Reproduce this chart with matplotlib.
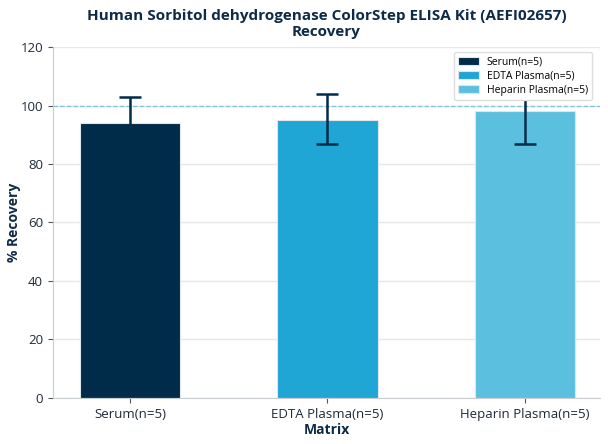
import numpy as np
import matplotlib.pyplot as plt

matrices = ['Serum(n=5)', 'EDTA Plasma(n=5)', 'Heparin Plasma(n=5)']
recovery = [94, 95, 98]
err_low = [9, 8, 11]
err_high = [9, 9, 11]
colors = ['#002b49', '#1fa6d4', '#5bc0e0']

plt.rcParams['font.family'] = ['Open Sans', 'DejaVu Sans']

fig, ax = plt.subplots(figsize=(6.08, 4.44), dpi=100)
fig.subplots_adjust(left=0.087, right=0.987, top=0.894, bottom=0.104)

x = np.arange(len(matrices))
ax.set_axisbelow(True)
ax.yaxis.grid(True, color='#e6e9ec', linewidth=1)
bars = ax.bar(x, recovery, width=0.51, color=colors, edgecolor='#dde6ea', linewidth=0.8,
              label=matrices, zorder=2)
ax.errorbar(x, recovery, yerr=[err_low, err_high], fmt='none', ecolor='#022b49',
            elinewidth=1.8, capsize=8, capthick=1.8, zorder=3)
ax.axhline(100, color='#7cc3d3', linestyle='--', linewidth=0.9, zorder=1)

ax.set_xticks(x)
ax.set_xticklabels(matrices, fontsize=9.5, color='#1e2a38')
ax.set_ylim(0, 120)
ax.set_xlim(-0.39, 2.38)
ax.set_yticks(range(0, 121, 20))
ax.tick_params(axis='y', labelsize=9.5, colors='#1e2a38')
ax.tick_params(axis='both', color='#555555', length=3.5)

for s in ['top', 'right']:
    ax.spines[s].set_visible(False)
for s in ['left', 'bottom']:
    ax.spines[s].set_color('#c8cdd2')

ax.set_xlabel('Matrix', fontsize=10, fontweight='bold', color='#0d2a47', labelpad=2)
ax.set_ylabel('% Recovery', fontsize=10, fontweight='bold', color='#0d2a47')
ax.yaxis.set_label_coords(-0.058, 0.5)
ax.set_title('Human Sorbitol dehydrogenase ColorStep ELISA Kit (AEFI02657)\nRecovery',
             fontsize=11, fontweight='bold', color='#0d2a47', pad=8, linespacing=1.15)

leg = ax.legend(handles=bars, labels=matrices, loc='upper right', fontsize=7.5,
                frameon=True, framealpha=1, edgecolor='#dddddd', borderpad=0.4,
                handlelength=2.0, handleheight=0.8, labelspacing=0.3,
                bbox_to_anchor=(0.995, 1.0))
leg.set_zorder(5)

fig.savefig('out.png')
